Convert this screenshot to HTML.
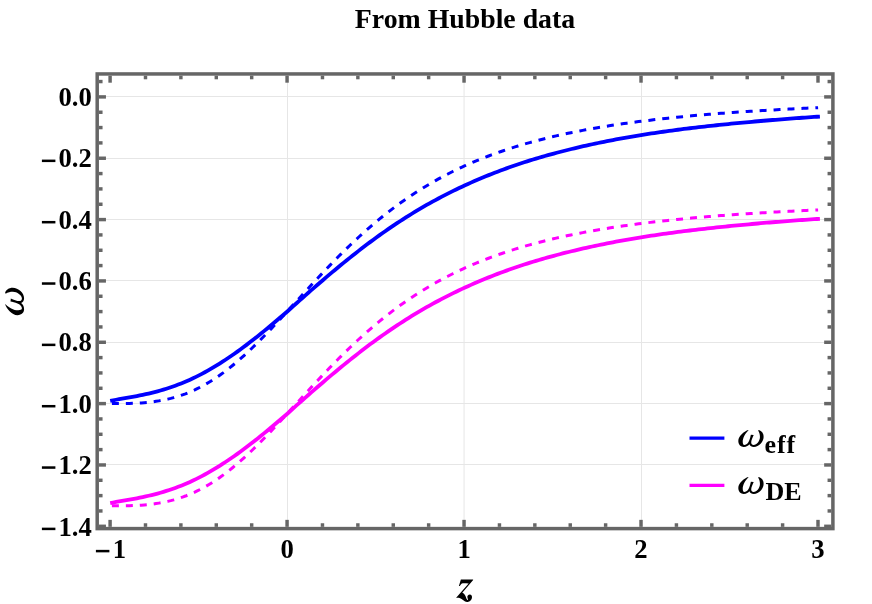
<!DOCTYPE html><html lang="en"><head><meta charset="utf-8"><title>chart</title>
<style>html,body{margin:0;padding:0;background:#fff;}svg{display:block;}text{font-family:"Liberation Serif",serif;fill:#000;}</style></head><body>
<div id="chart" style="width:872px;height:604px;will-change:transform;">
<svg width="872" height="604" viewBox="0 0 872 604">
<rect width="100%" height="100%" fill="#fff"/>
<g stroke="#e6e6e6" stroke-width="1"><line x1="287.50" y1="73.95" x2="287.50" y2="528.60"/><line x1="464.06" y1="73.95" x2="464.06" y2="528.60"/><line x1="641.50" y1="73.95" x2="641.50" y2="528.60"/><line x1="97.20" y1="96.50" x2="832.90" y2="96.50"/><line x1="97.20" y1="158.50" x2="832.90" y2="158.50"/><line x1="97.20" y1="219.50" x2="832.90" y2="219.50"/><line x1="97.20" y1="280.50" x2="832.90" y2="280.50"/><line x1="97.20" y1="342.50" x2="832.90" y2="342.50"/><line x1="97.20" y1="403.50" x2="832.90" y2="403.50"/><line x1="97.20" y1="464.50" x2="832.90" y2="464.50"/></g>
<g fill="none" stroke-linejoin="round">
<path d="M110.20 400.85 L113.16 400.28 L116.11 399.75 L119.07 399.24 L122.03 398.74 L124.99 398.24 L127.94 397.73 L130.90 397.21 L133.86 396.66 L136.81 396.08 L139.77 395.48 L142.73 394.86 L145.69 394.21 L148.64 393.53 L151.60 392.83 L154.56 392.08 L157.51 391.30 L160.47 390.48 L163.43 389.62 L166.38 388.71 L169.34 387.75 L172.30 386.74 L175.26 385.68 L178.21 384.58 L181.17 383.42 L184.13 382.22 L187.08 380.96 L190.04 379.65 L193.00 378.29 L195.96 376.87 L198.91 375.39 L201.87 373.87 L204.83 372.29 L207.78 370.65 L210.74 368.95 L213.70 367.19 L216.65 365.39 L219.61 363.54 L222.57 361.65 L225.53 359.73 L228.48 357.77 L231.44 355.77 L234.40 353.72 L237.35 351.63 L240.31 349.49 L243.27 347.32 L246.23 345.11 L249.18 342.86 L252.14 340.57 L255.10 338.25 L258.05 335.91 L261.01 333.53 L263.97 331.12 L266.93 328.69 L269.88 326.24 L272.84 323.77 L275.80 321.28 L278.75 318.79 L281.71 316.28 L284.67 313.76 L287.62 311.20 L290.58 308.52 L293.54 305.85 L296.50 303.21 L299.45 300.58 L302.41 297.96 L305.37 295.36 L308.32 292.77 L311.28 290.19 L314.24 287.62 L317.20 285.06 L320.15 282.50 L323.11 279.95 L326.07 277.42 L329.02 274.91 L331.98 272.41 L334.94 269.94 L337.90 267.49 L340.85 265.06 L343.81 262.65 L346.77 260.26 L349.72 257.89 L352.68 255.54 L355.64 253.20 L358.59 250.88 L361.55 248.59 L364.51 246.32 L367.47 244.07 L370.42 241.86 L373.38 239.67 L376.34 237.51 L379.29 235.38 L382.25 233.28 L385.21 231.20 L388.17 229.15 L391.12 227.14 L394.08 225.15 L397.04 223.19 L399.99 221.25 L402.95 219.33 L405.91 217.44 L408.87 215.58 L411.82 213.74 L414.78 211.93 L417.74 210.15 L420.69 208.39 L423.65 206.66 L426.61 204.97 L429.56 203.30 L432.52 201.66 L435.48 200.05 L438.44 198.46 L441.39 196.90 L444.35 195.36 L447.31 193.85 L450.26 192.36 L453.22 190.90 L456.18 189.46 L459.14 188.05 L462.09 186.66 L465.05 185.30 L468.01 183.95 L470.96 182.63 L473.92 181.33 L476.88 180.05 L479.84 178.79 L482.79 177.55 L485.75 176.33 L488.71 175.13 L491.66 173.95 L494.62 172.79 L497.58 171.66 L500.53 170.54 L503.49 169.44 L506.45 168.36 L509.41 167.30 L512.36 166.26 L515.32 165.24 L518.28 164.23 L521.23 163.25 L524.19 162.28 L527.15 161.34 L530.11 160.41 L533.06 159.50 L536.02 158.60 L538.98 157.73 L541.93 156.86 L544.89 156.02 L547.85 155.18 L550.81 154.36 L553.76 153.56 L556.72 152.77 L559.68 151.99 L562.63 151.22 L565.59 150.47 L568.55 149.73 L571.50 149.01 L574.46 148.29 L577.42 147.59 L580.38 146.90 L583.33 146.22 L586.29 145.56 L589.25 144.90 L592.20 144.26 L595.16 143.62 L598.12 143.00 L601.08 142.39 L604.03 141.79 L606.99 141.20 L609.95 140.62 L612.90 140.05 L615.86 139.49 L618.82 138.94 L621.78 138.40 L624.73 137.87 L627.69 137.34 L630.65 136.83 L633.60 136.33 L636.56 135.83 L639.52 135.35 L642.48 134.87 L645.43 134.40 L648.39 133.94 L651.35 133.49 L654.30 133.04 L657.26 132.60 L660.22 132.18 L663.17 131.75 L666.13 131.34 L669.09 130.93 L672.05 130.53 L675.00 130.14 L677.96 129.75 L680.92 129.37 L683.87 128.99 L686.83 128.63 L689.79 128.26 L692.75 127.91 L695.70 127.55 L698.66 127.21 L701.62 126.87 L704.57 126.53 L707.53 126.20 L710.49 125.88 L713.45 125.56 L716.40 125.24 L719.36 124.93 L722.32 124.62 L725.27 124.32 L728.23 124.02 L731.19 123.72 L734.14 123.43 L737.10 123.14 L740.06 122.86 L743.02 122.58 L745.97 122.31 L748.93 122.04 L751.89 121.77 L754.84 121.51 L757.80 121.25 L760.76 120.99 L763.72 120.74 L766.67 120.49 L769.63 120.25 L772.59 120.01 L775.54 119.77 L778.50 119.54 L781.46 119.30 L784.41 119.08 L787.37 118.85 L790.33 118.63 L793.29 118.41 L796.24 118.19 L799.20 117.98 L802.16 117.77 L805.11 117.56 L808.07 117.36 L811.03 117.16 L813.99 116.96 L816.94 116.76 L819.90 116.57" stroke="#0000ff" stroke-width="3.8"/>
<path d="M111.90 403.61 L114.84 403.61 L117.79 403.60 L120.73 403.59 L123.67 403.56 L126.61 403.51 L129.56 403.44 L132.50 403.35 L135.44 403.23 L138.38 403.08 L141.33 402.89 L144.27 402.67 L147.21 402.41 L150.15 402.10 L153.10 401.74 L156.04 401.33 L158.98 400.87 L161.92 400.35 L164.87 399.77 L167.81 399.12 L170.75 398.41 L173.69 397.63 L176.63 396.78 L179.58 395.86 L182.52 394.86 L185.46 393.79 L188.41 392.64 L191.35 391.40 L194.29 390.09 L197.23 388.69 L200.18 387.21 L203.12 385.65 L206.06 384.00 L209.00 382.27 L211.95 380.45 L214.89 378.56 L217.83 376.58 L220.77 374.52 L223.72 372.38 L226.66 370.16 L229.60 367.86 L232.54 365.49 L235.49 363.05 L238.43 360.54 L241.37 357.96 L244.31 355.31 L247.25 352.60 L250.20 349.84 L253.14 347.02 L256.08 344.14 L259.02 341.22 L261.97 338.25 L264.91 335.24 L267.85 332.19 L270.80 329.11 L273.74 326.00 L276.68 322.86 L279.62 319.69 L282.57 316.51 L285.51 313.31 L288.45 310.10 L291.39 306.88 L294.34 303.65 L297.28 300.42 L300.22 297.19 L303.16 293.97 L306.11 290.75 L309.05 287.54 L311.99 284.35 L314.93 281.17 L317.88 278.01 L320.82 274.87 L323.76 271.75 L326.70 268.66 L329.64 265.59 L332.59 262.55 L335.53 259.55 L338.47 256.57 L341.42 253.63 L344.36 250.72 L347.30 247.85 L350.24 245.02 L353.19 242.22 L356.13 239.46 L359.07 236.75 L362.01 234.07 L364.96 231.43 L367.90 228.84 L370.84 226.28 L373.78 223.77 L376.73 221.30 L379.67 218.87 L382.61 216.49 L385.55 214.15 L388.50 211.85 L391.44 209.59 L394.38 207.37 L397.32 205.20 L400.26 203.07 L403.21 200.98 L406.15 198.93 L409.09 196.92 L412.04 194.95 L414.98 193.02 L417.92 191.12 L420.86 189.27 L423.81 187.46 L426.75 185.68 L429.69 183.94 L432.63 182.24 L435.58 180.57 L438.52 178.93 L441.46 177.34 L444.40 175.77 L447.35 174.24 L450.29 172.74 L453.23 171.28 L456.17 169.85 L459.12 168.44 L462.06 167.07 L465.00 165.73 L467.94 164.41 L470.88 163.13 L473.83 161.87 L476.77 160.64 L479.71 159.44 L482.66 158.27 L485.60 157.12 L488.54 155.99 L491.48 154.89 L494.42 153.81 L497.37 152.76 L500.31 151.73 L503.25 150.72 L506.20 149.74 L509.14 148.77 L512.08 147.83 L515.02 146.91 L517.97 146.00 L520.91 145.12 L523.85 144.26 L526.79 143.41 L529.74 142.59 L532.68 141.78 L535.62 140.99 L538.56 140.21 L541.51 139.45 L544.45 138.71 L547.39 137.98 L550.33 137.27 L553.27 136.58 L556.22 135.90 L559.16 135.23 L562.10 134.58 L565.05 133.94 L567.99 133.32 L570.93 132.70 L573.87 132.10 L576.82 131.52 L579.76 130.94 L582.70 130.38 L585.64 129.83 L588.59 129.29 L591.53 128.76 L594.47 128.24 L597.41 127.73 L600.36 127.24 L603.30 126.75 L606.24 126.27 L609.18 125.80 L612.13 125.34 L615.07 124.90 L618.01 124.46 L620.95 124.02 L623.89 123.60 L626.84 123.19 L629.78 122.78 L632.72 122.38 L635.66 121.99 L638.61 121.61 L641.55 121.23 L644.49 120.86 L647.44 120.50 L650.38 120.15 L653.32 119.80 L656.26 119.46 L659.21 119.12 L662.15 118.80 L665.09 118.47 L668.03 118.16 L670.98 117.85 L673.92 117.54 L676.86 117.24 L679.80 116.95 L682.75 116.66 L685.69 116.38 L688.63 116.10 L691.57 115.83 L694.51 115.56 L697.46 115.30 L700.40 115.04 L703.34 114.79 L706.29 114.54 L709.23 114.30 L712.17 114.06 L715.11 113.82 L718.06 113.59 L721.00 113.37 L723.94 113.14 L726.88 112.92 L729.82 112.71 L732.77 112.50 L735.71 112.29 L738.65 112.08 L741.60 111.88 L744.54 111.69 L747.48 111.49 L750.42 111.30 L753.37 111.11 L756.31 110.93 L759.25 110.75 L762.19 110.57 L765.14 110.39 L768.08 110.22 L771.02 110.05 L773.96 109.88 L776.90 109.72 L779.85 109.56 L782.79 109.40 L785.73 109.24 L788.67 109.09 L791.62 108.94 L794.56 108.79 L797.50 108.65 L800.45 108.50 L803.39 108.36 L806.33 108.22 L809.27 108.08 L812.22 107.95 L815.16 107.82 L818.10 107.68" stroke="#0000ff" stroke-width="3.0" stroke-dasharray="6.98 6.98"/>
<path d="M110.20 503.09 L113.16 502.52 L116.11 501.99 L119.07 501.48 L122.03 500.98 L124.99 500.48 L127.94 499.97 L130.90 499.45 L133.86 498.90 L136.81 498.32 L139.77 497.72 L142.73 497.10 L145.69 496.45 L148.64 495.77 L151.60 495.06 L154.56 494.32 L157.51 493.54 L160.47 492.72 L163.43 491.85 L166.38 490.94 L169.34 489.99 L172.30 488.98 L175.26 487.92 L178.21 486.82 L181.17 485.66 L184.13 484.46 L187.08 483.20 L190.04 481.89 L193.00 480.53 L195.96 479.11 L198.91 477.63 L201.87 476.11 L204.83 474.53 L207.78 472.89 L210.74 471.19 L213.70 469.43 L216.65 467.63 L219.61 465.78 L222.57 463.89 L225.53 461.97 L228.48 460.01 L231.44 458.01 L234.40 455.96 L237.35 453.86 L240.31 451.73 L243.27 449.56 L246.23 447.34 L249.18 445.09 L252.14 442.81 L255.10 440.49 L258.05 438.14 L261.01 435.77 L263.97 433.36 L266.93 430.93 L269.88 428.48 L272.84 426.01 L275.80 423.52 L278.75 421.03 L281.71 418.52 L284.67 416.00 L287.62 413.44 L290.58 410.76 L293.54 408.09 L296.50 405.44 L299.45 402.81 L302.41 400.20 L305.37 397.60 L308.32 395.01 L311.28 392.43 L314.24 389.86 L317.20 387.30 L320.15 384.74 L323.11 382.19 L326.07 379.66 L329.02 377.14 L331.98 374.65 L334.94 372.18 L337.90 369.73 L340.85 367.30 L343.81 364.89 L346.77 362.50 L349.72 360.13 L352.68 357.77 L355.64 355.44 L358.59 353.12 L361.55 350.82 L364.51 348.55 L367.47 346.31 L370.42 344.10 L373.38 341.91 L376.34 339.75 L379.29 337.62 L382.25 335.51 L385.21 333.44 L388.17 331.39 L391.12 329.38 L394.08 327.39 L397.04 325.42 L399.99 323.48 L402.95 321.57 L405.91 319.68 L408.87 317.82 L411.82 315.98 L414.78 314.17 L417.74 312.38 L420.69 310.63 L423.65 308.90 L426.61 307.21 L429.56 305.54 L432.52 303.90 L435.48 302.28 L438.44 300.70 L441.39 299.13 L444.35 297.60 L447.31 296.09 L450.26 294.60 L453.22 293.14 L456.18 291.70 L459.14 290.29 L462.09 288.90 L465.05 287.53 L468.01 286.19 L470.96 284.87 L473.92 283.56 L476.88 282.28 L479.84 281.02 L482.79 279.78 L485.75 278.57 L488.71 277.37 L491.66 276.19 L494.62 275.03 L497.58 273.89 L500.53 272.78 L503.49 271.68 L506.45 270.60 L509.41 269.54 L512.36 268.50 L515.32 267.47 L518.28 266.47 L521.23 265.49 L524.19 264.52 L527.15 263.57 L530.11 262.65 L533.06 261.74 L536.02 260.84 L538.98 259.96 L541.93 259.10 L544.89 258.25 L547.85 257.42 L550.81 256.60 L553.76 255.80 L556.72 255.00 L559.68 254.23 L562.63 253.46 L565.59 252.71 L568.55 251.97 L571.50 251.24 L574.46 250.53 L577.42 249.83 L580.38 249.14 L583.33 248.46 L586.29 247.79 L589.25 247.14 L592.20 246.49 L595.16 245.86 L598.12 245.24 L601.08 244.63 L604.03 244.03 L606.99 243.44 L609.95 242.86 L612.90 242.29 L615.86 241.73 L618.82 241.18 L621.78 240.64 L624.73 240.10 L627.69 239.58 L630.65 239.07 L633.60 238.57 L636.56 238.07 L639.52 237.58 L642.48 237.11 L645.43 236.64 L648.39 236.18 L651.35 235.72 L654.30 235.28 L657.26 234.84 L660.22 234.41 L663.17 233.99 L666.13 233.58 L669.09 233.17 L672.05 232.77 L675.00 232.38 L677.96 231.99 L680.92 231.61 L683.87 231.23 L686.83 230.86 L689.79 230.50 L692.75 230.14 L695.70 229.79 L698.66 229.45 L701.62 229.11 L704.57 228.77 L707.53 228.44 L710.49 228.12 L713.45 227.79 L716.40 227.48 L719.36 227.17 L722.32 226.86 L725.27 226.56 L728.23 226.26 L731.19 225.96 L734.14 225.67 L737.10 225.38 L740.06 225.10 L743.02 224.82 L745.97 224.55 L748.93 224.28 L751.89 224.01 L754.84 223.75 L757.80 223.49 L760.76 223.23 L763.72 222.98 L766.67 222.73 L769.63 222.49 L772.59 222.25 L775.54 222.01 L778.50 221.77 L781.46 221.54 L784.41 221.31 L787.37 221.09 L790.33 220.87 L793.29 220.65 L796.24 220.43 L799.20 220.22 L802.16 220.01 L805.11 219.80 L808.07 219.60 L811.03 219.40 L813.99 219.20 L816.94 219.00 L819.90 218.81" stroke="#ff00ff" stroke-width="3.8"/>
<path d="M111.90 505.85 L114.84 505.85 L117.79 505.84 L120.73 505.82 L123.67 505.79 L126.61 505.75 L129.56 505.68 L132.50 505.59 L135.44 505.47 L138.38 505.32 L141.33 505.13 L144.27 504.91 L147.21 504.65 L150.15 504.34 L153.10 503.98 L156.04 503.57 L158.98 503.11 L161.92 502.59 L164.87 502.01 L167.81 501.36 L170.75 500.65 L173.69 499.87 L176.63 499.02 L179.58 498.10 L182.52 497.10 L185.46 496.03 L188.41 494.87 L191.35 493.64 L194.29 492.33 L197.23 490.93 L200.18 489.45 L203.12 487.88 L206.06 486.24 L209.00 484.51 L211.95 482.69 L214.89 480.79 L217.83 478.82 L220.77 476.76 L223.72 474.61 L226.66 472.40 L229.60 470.10 L232.54 467.73 L235.49 465.29 L238.43 462.77 L241.37 460.19 L244.31 457.55 L247.25 454.84 L250.20 452.08 L253.14 449.25 L256.08 446.38 L259.02 443.46 L261.97 440.49 L264.91 437.48 L267.85 434.43 L270.80 431.35 L273.74 428.24 L276.68 425.10 L279.62 421.93 L282.57 418.75 L285.51 415.55 L288.45 412.34 L291.39 409.11 L294.34 405.89 L297.28 402.66 L300.22 399.43 L303.16 396.21 L306.11 392.99 L309.05 389.78 L311.99 386.59 L314.93 383.41 L317.88 380.25 L320.82 377.11 L323.76 373.99 L326.70 370.90 L329.64 367.83 L332.59 364.79 L335.53 361.78 L338.47 358.81 L341.42 355.87 L344.36 352.96 L347.30 350.09 L350.24 347.25 L353.19 344.46 L356.13 341.70 L359.07 338.98 L362.01 336.31 L364.96 333.67 L367.90 331.07 L370.84 328.52 L373.78 326.01 L376.73 323.54 L379.67 321.11 L382.61 318.73 L385.55 316.39 L388.50 314.09 L391.44 311.83 L394.38 309.61 L397.32 307.44 L400.26 305.31 L403.21 303.21 L406.15 301.16 L409.09 299.15 L412.04 297.18 L414.98 295.25 L417.92 293.36 L420.86 291.51 L423.81 289.69 L426.75 287.92 L429.69 286.18 L432.63 284.47 L435.58 282.81 L438.52 281.17 L441.46 279.57 L444.40 278.01 L447.35 276.48 L450.29 274.98 L453.23 273.52 L456.17 272.08 L459.12 270.68 L462.06 269.31 L465.00 267.97 L467.94 266.65 L470.88 265.37 L473.83 264.11 L476.77 262.88 L479.71 261.68 L482.66 260.50 L485.60 259.35 L488.54 258.23 L491.48 257.13 L494.42 256.05 L497.37 255.00 L500.31 253.97 L503.25 252.96 L506.20 251.98 L509.14 251.01 L512.08 250.07 L515.02 249.15 L517.97 248.24 L520.91 247.36 L523.85 246.50 L526.79 245.65 L529.74 244.82 L532.68 244.02 L535.62 243.22 L538.56 242.45 L541.51 241.69 L544.45 240.95 L547.39 240.22 L550.33 239.51 L553.27 238.82 L556.22 238.14 L559.16 237.47 L562.10 236.82 L565.05 236.18 L567.99 235.55 L570.93 234.94 L573.87 234.34 L576.82 233.75 L579.76 233.18 L582.70 232.62 L585.64 232.07 L588.59 231.53 L591.53 231.00 L594.47 230.48 L597.41 229.97 L600.36 229.47 L603.30 228.99 L606.24 228.51 L609.18 228.04 L612.13 227.58 L615.07 227.13 L618.01 226.69 L620.95 226.26 L623.89 225.84 L626.84 225.42 L629.78 225.02 L632.72 224.62 L635.66 224.23 L638.61 223.85 L641.55 223.47 L644.49 223.10 L647.44 222.74 L650.38 222.38 L653.32 222.04 L656.26 221.70 L659.21 221.36 L662.15 221.03 L665.09 220.71 L668.03 220.40 L670.98 220.09 L673.92 219.78 L676.86 219.48 L679.80 219.19 L682.75 218.90 L685.69 218.62 L688.63 218.34 L691.57 218.07 L694.51 217.80 L697.46 217.54 L700.40 217.28 L703.34 217.03 L706.29 216.78 L709.23 216.54 L712.17 216.30 L715.11 216.06 L718.06 215.83 L721.00 215.60 L723.94 215.38 L726.88 215.16 L729.82 214.95 L732.77 214.73 L735.71 214.53 L738.65 214.32 L741.60 214.12 L744.54 213.92 L747.48 213.73 L750.42 213.54 L753.37 213.35 L756.31 213.17 L759.25 212.98 L762.19 212.81 L765.14 212.63 L768.08 212.46 L771.02 212.29 L773.96 212.12 L776.90 211.96 L779.85 211.80 L782.79 211.64 L785.73 211.48 L788.67 211.33 L791.62 211.18 L794.56 211.03 L797.50 210.88 L800.45 210.74 L803.39 210.60 L806.33 210.46 L809.27 210.32 L812.22 210.19 L815.16 210.05 L818.10 209.92" stroke="#ff00ff" stroke-width="3.0" stroke-dasharray="6.98 6.98"/>
</g>
<g stroke="#666666" stroke-width="3.45"><line x1="110.10" y1="526.85" x2="110.10" y2="519.85"/><line x1="110.10" y1="75.70" x2="110.10" y2="82.70"/><line x1="145.49" y1="526.85" x2="145.49" y2="523.25"/><line x1="145.49" y1="75.70" x2="145.49" y2="79.30"/><line x1="180.89" y1="526.85" x2="180.89" y2="523.25"/><line x1="180.89" y1="75.70" x2="180.89" y2="79.30"/><line x1="216.29" y1="526.85" x2="216.29" y2="523.25"/><line x1="216.29" y1="75.70" x2="216.29" y2="79.30"/><line x1="251.68" y1="526.85" x2="251.68" y2="523.25"/><line x1="251.68" y1="75.70" x2="251.68" y2="79.30"/><line x1="287.07" y1="526.85" x2="287.07" y2="519.85"/><line x1="287.07" y1="75.70" x2="287.07" y2="82.70"/><line x1="322.47" y1="526.85" x2="322.47" y2="523.25"/><line x1="322.47" y1="75.70" x2="322.47" y2="79.30"/><line x1="357.87" y1="526.85" x2="357.87" y2="523.25"/><line x1="357.87" y1="75.70" x2="357.87" y2="79.30"/><line x1="393.26" y1="526.85" x2="393.26" y2="523.25"/><line x1="393.26" y1="75.70" x2="393.26" y2="79.30"/><line x1="428.65" y1="526.85" x2="428.65" y2="523.25"/><line x1="428.65" y1="75.70" x2="428.65" y2="79.30"/><line x1="464.05" y1="526.85" x2="464.05" y2="519.85"/><line x1="464.05" y1="75.70" x2="464.05" y2="82.70"/><line x1="499.45" y1="526.85" x2="499.45" y2="523.25"/><line x1="499.45" y1="75.70" x2="499.45" y2="79.30"/><line x1="534.84" y1="526.85" x2="534.84" y2="523.25"/><line x1="534.84" y1="75.70" x2="534.84" y2="79.30"/><line x1="570.24" y1="526.85" x2="570.24" y2="523.25"/><line x1="570.24" y1="75.70" x2="570.24" y2="79.30"/><line x1="605.63" y1="526.85" x2="605.63" y2="523.25"/><line x1="605.63" y1="75.70" x2="605.63" y2="79.30"/><line x1="641.02" y1="526.85" x2="641.02" y2="519.85"/><line x1="641.02" y1="75.70" x2="641.02" y2="82.70"/><line x1="676.42" y1="526.85" x2="676.42" y2="523.25"/><line x1="676.42" y1="75.70" x2="676.42" y2="79.30"/><line x1="711.82" y1="526.85" x2="711.82" y2="523.25"/><line x1="711.82" y1="75.70" x2="711.82" y2="79.30"/><line x1="747.21" y1="526.85" x2="747.21" y2="523.25"/><line x1="747.21" y1="75.70" x2="747.21" y2="79.30"/><line x1="782.61" y1="526.85" x2="782.61" y2="523.25"/><line x1="782.61" y1="75.70" x2="782.61" y2="79.30"/><line x1="818.00" y1="526.85" x2="818.00" y2="519.85"/><line x1="818.00" y1="75.70" x2="818.00" y2="82.70"/><line x1="98.95" y1="81.56" x2="102.55" y2="81.56"/><line x1="831.15" y1="81.56" x2="827.55" y2="81.56"/><line x1="98.95" y1="96.90" x2="105.95" y2="96.90"/><line x1="831.15" y1="96.90" x2="824.15" y2="96.90"/><line x1="98.95" y1="112.24" x2="102.55" y2="112.24"/><line x1="831.15" y1="112.24" x2="827.55" y2="112.24"/><line x1="98.95" y1="127.57" x2="102.55" y2="127.57"/><line x1="831.15" y1="127.57" x2="827.55" y2="127.57"/><line x1="98.95" y1="142.91" x2="102.55" y2="142.91"/><line x1="831.15" y1="142.91" x2="827.55" y2="142.91"/><line x1="98.95" y1="158.24" x2="105.95" y2="158.24"/><line x1="831.15" y1="158.24" x2="824.15" y2="158.24"/><line x1="98.95" y1="173.58" x2="102.55" y2="173.58"/><line x1="831.15" y1="173.58" x2="827.55" y2="173.58"/><line x1="98.95" y1="188.91" x2="102.55" y2="188.91"/><line x1="831.15" y1="188.91" x2="827.55" y2="188.91"/><line x1="98.95" y1="204.25" x2="102.55" y2="204.25"/><line x1="831.15" y1="204.25" x2="827.55" y2="204.25"/><line x1="98.95" y1="219.59" x2="105.95" y2="219.59"/><line x1="831.15" y1="219.59" x2="824.15" y2="219.59"/><line x1="98.95" y1="234.92" x2="102.55" y2="234.92"/><line x1="831.15" y1="234.92" x2="827.55" y2="234.92"/><line x1="98.95" y1="250.26" x2="102.55" y2="250.26"/><line x1="831.15" y1="250.26" x2="827.55" y2="250.26"/><line x1="98.95" y1="265.59" x2="102.55" y2="265.59"/><line x1="831.15" y1="265.59" x2="827.55" y2="265.59"/><line x1="98.95" y1="280.93" x2="105.95" y2="280.93"/><line x1="831.15" y1="280.93" x2="824.15" y2="280.93"/><line x1="98.95" y1="296.26" x2="102.55" y2="296.26"/><line x1="831.15" y1="296.26" x2="827.55" y2="296.26"/><line x1="98.95" y1="311.60" x2="102.55" y2="311.60"/><line x1="831.15" y1="311.60" x2="827.55" y2="311.60"/><line x1="98.95" y1="326.94" x2="102.55" y2="326.94"/><line x1="831.15" y1="326.94" x2="827.55" y2="326.94"/><line x1="98.95" y1="342.27" x2="105.95" y2="342.27"/><line x1="831.15" y1="342.27" x2="824.15" y2="342.27"/><line x1="98.95" y1="357.61" x2="102.55" y2="357.61"/><line x1="831.15" y1="357.61" x2="827.55" y2="357.61"/><line x1="98.95" y1="372.94" x2="102.55" y2="372.94"/><line x1="831.15" y1="372.94" x2="827.55" y2="372.94"/><line x1="98.95" y1="388.28" x2="102.55" y2="388.28"/><line x1="831.15" y1="388.28" x2="827.55" y2="388.28"/><line x1="98.95" y1="403.61" x2="105.95" y2="403.61"/><line x1="831.15" y1="403.61" x2="824.15" y2="403.61"/><line x1="98.95" y1="418.95" x2="102.55" y2="418.95"/><line x1="831.15" y1="418.95" x2="827.55" y2="418.95"/><line x1="98.95" y1="434.29" x2="102.55" y2="434.29"/><line x1="831.15" y1="434.29" x2="827.55" y2="434.29"/><line x1="98.95" y1="449.62" x2="102.55" y2="449.62"/><line x1="831.15" y1="449.62" x2="827.55" y2="449.62"/><line x1="98.95" y1="464.96" x2="105.95" y2="464.96"/><line x1="831.15" y1="464.96" x2="824.15" y2="464.96"/><line x1="98.95" y1="480.29" x2="102.55" y2="480.29"/><line x1="831.15" y1="480.29" x2="827.55" y2="480.29"/><line x1="98.95" y1="495.63" x2="102.55" y2="495.63"/><line x1="831.15" y1="495.63" x2="827.55" y2="495.63"/><line x1="98.95" y1="510.96" x2="102.55" y2="510.96"/><line x1="831.15" y1="510.96" x2="827.55" y2="510.96"/><line x1="98.95" y1="526.30" x2="105.95" y2="526.30"/><line x1="831.15" y1="526.30" x2="824.15" y2="526.30"/></g>
<rect x="97.20" y="73.95" width="735.70" height="454.65" fill="none" stroke="#666666" stroke-width="3.50"/>
<g font-weight="bold" font-size="26.67">
<text x="91.8" y="106.10" text-anchor="end">0.0</text>
<text x="91.8" y="167.44" text-anchor="end"><tspan style="fill:none">−</tspan>0.2</text>
<rect x="41.9" y="159.59" width="13.5" height="2.5" fill="#000"/>
<text x="91.8" y="228.79" text-anchor="end"><tspan style="fill:none">−</tspan>0.4</text>
<rect x="41.9" y="220.94" width="13.5" height="2.5" fill="#000"/>
<text x="91.8" y="290.13" text-anchor="end"><tspan style="fill:none">−</tspan>0.6</text>
<rect x="41.9" y="282.28" width="13.5" height="2.5" fill="#000"/>
<text x="91.8" y="351.47" text-anchor="end"><tspan style="fill:none">−</tspan>0.8</text>
<rect x="41.9" y="343.62" width="13.5" height="2.5" fill="#000"/>
<text x="91.8" y="412.81" text-anchor="end"><tspan style="fill:none">−</tspan>1.0</text>
<rect x="41.9" y="404.96" width="13.5" height="2.5" fill="#000"/>
<text x="91.8" y="474.16" text-anchor="end"><tspan style="fill:none">−</tspan>1.2</text>
<rect x="41.9" y="466.31" width="13.5" height="2.5" fill="#000"/>
<text x="91.8" y="535.50" text-anchor="end"><tspan style="fill:none">−</tspan>1.4</text>
<rect x="41.9" y="527.65" width="13.5" height="2.5" fill="#000"/>
<text x="287.07" y="557.8" text-anchor="middle">0</text>
<text x="464.05" y="557.8" text-anchor="middle">1</text>
<text x="641.02" y="557.8" text-anchor="middle">2</text>
<text x="818.00" y="557.8" text-anchor="middle">3</text>
<text x="119.3" y="557.8" text-anchor="middle">1</text>
<text x="110" y="557.8" text-anchor="end" style="fill:none">−</text>
<rect x="95.9" y="549.85" width="13.5" height="2.5" fill="#000"/>
</g>
<text x="465.0" y="27.9" text-anchor="middle" font-weight="bold" font-size="27.8">From Hubble data</text>
<g aria-label="z"><title>z</title><path transform="translate(450,572) scale(0.053)" d="M205 140 L435 140 L437 152 L232 392 C262 400 285 430 300 470 C310 500 318 525 335 527 C345 527 338 505 330 490 C318 455 345 425 375 425 C400 425 415 445 415 470 C415 520 375 565 320 565 C270 565 235 510 180 492 C160 486 140 488 125 490 L120 480 L352 215 C300 213 250 205 225 215 C205 225 195 245 188 265 L168 262 Z" fill="#000"/></g>
<text x="464.8" y="597.4" text-anchor="middle" font-weight="bold" font-style="italic" font-size="37.3" fill="none" style="fill:none">z</text>
<path transform="translate(14.6,301.45) rotate(-90) scale(0.04673,0.04819) translate(-393,-290)" d="M330 95 C250 120 100 230 100 350 C100 440 160 487 225 487 C290 487 335 455 358 425 C375 465 410 487 460 487 C580 487 688 370 688 250 C688 170 640 110 580 93 L560 105 C590 150 603 200 603 255 C603 340 530 442 455 442 C420 442 400 420 400 385 C400 340 430 270 458 212 L392 205 C375 280 345 440 245 442 C215 442 203 410 203 365 C203 270 270 160 335 103 Z" fill="#000"/>
<text transform="translate(24,301.5) rotate(-90)" text-anchor="middle" font-weight="bold" font-style="italic" font-size="39" style="fill:none">ω</text>
<line x1="689.5" y1="438.1" x2="724.4" y2="438.1" stroke="#0000ff" stroke-width="3.2"/>
<line x1="689.5" y1="485.3" x2="724.4" y2="485.3" stroke="#ff00ff" stroke-width="3.2"/>
<path transform="translate(734,426) scale(0.04303)" d="M330 95 C250 120 100 230 100 350 C100 440 160 487 225 487 C290 487 335 455 358 425 C375 465 410 487 460 487 C580 487 688 370 688 250 C688 170 640 110 580 93 L560 105 C590 150 603 200 603 255 C603 340 530 442 455 442 C420 442 400 420 400 385 C400 340 430 270 458 212 L392 205 C375 280 345 440 245 442 C215 442 203 410 203 365 C203 270 270 160 335 103 Z" fill="#000"/>
<text x="738.5" y="447" font-weight="bold" font-style="italic" font-size="35" style="fill:none">ω</text>
<text x="764.6" y="453" font-weight="bold" font-size="26" letter-spacing="0.9">eff</text>
<path transform="translate(734,473) scale(0.04303)" d="M330 95 C250 120 100 230 100 350 C100 440 160 487 225 487 C290 487 335 455 358 425 C375 465 410 487 460 487 C580 487 688 370 688 250 C688 170 640 110 580 93 L560 105 C590 150 603 200 603 255 C603 340 530 442 455 442 C420 442 400 420 400 385 C400 340 430 270 458 212 L392 205 C375 280 345 440 245 442 C215 442 203 410 203 365 C203 270 270 160 335 103 Z" fill="#000"/>
<text x="738.5" y="494" font-weight="bold" font-style="italic" font-size="35" style="fill:none">ω</text>
<text x="765.5" y="500.3" font-weight="bold" font-size="26">DE</text>
</svg></div></body></html>
